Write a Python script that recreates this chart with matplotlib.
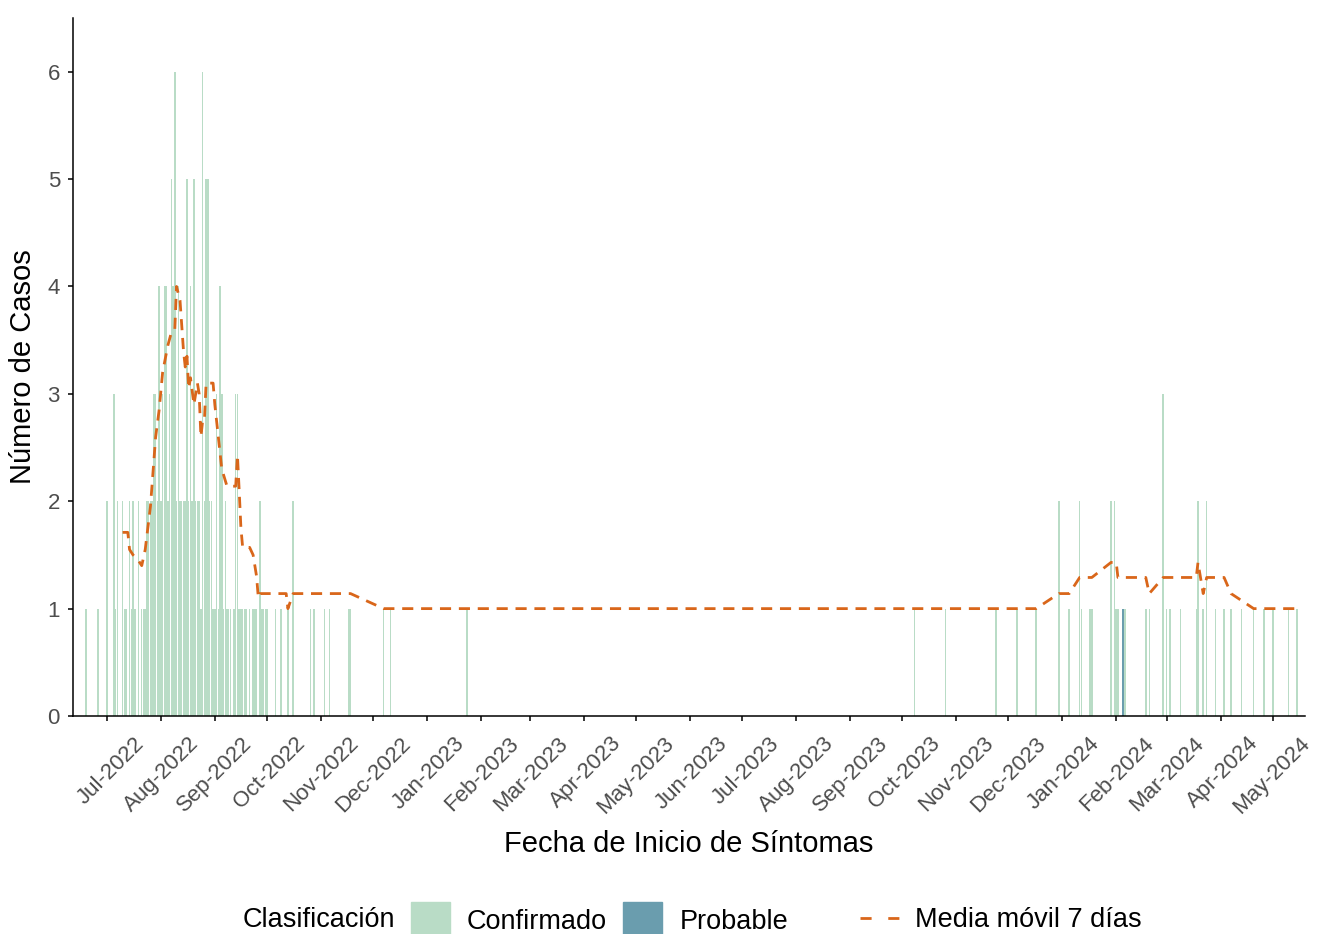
import pandas as pd
import matplotlib
matplotlib.use("Agg")
import matplotlib.pyplot as plt
import matplotlib.dates as mdates
import matplotlib.transforms as mtransforms
from matplotlib.patches import Patch
from matplotlib.lines import Line2D

plt.rcParams['font.family'] = ['Liberation Sans', 'DejaVu Sans']

# Confirmed cases, one value per day during the main wave (from 1 Jul 2022)
wave_start = "2022-07-01"
wave_counts = [2, 0, 0, 0, 3, 1, 2, 0, 0, 2,
               1, 1, 0, 2, 1, 2, 1, 0, 2, 0,
               1, 1, 1, 2, 2, 2, 2, 3, 3, 2,
               4, 2, 3, 4, 4, 2, 3, 5, 4, 6,
               2, 4, 2, 2, 2, 2, 5, 2, 4, 2,
               5, 2, 2, 2, 1, 6, 2, 5, 5, 2,
               2, 1, 1, 3, 1, 4, 3, 1, 2, 1,
               1, 1, 0, 1, 3, 3, 1, 1, 1, 1,
               1, 0, 1, 0, 1, 1, 1, 0, 2, 1,
               1, 1]

# Confirmed cases on isolated dates
confirmed_dates = ["2022-06-19", "2022-06-26", "2022-10-01", "2022-10-06", "2022-10-09",
                   "2022-10-13", "2022-10-16", "2022-10-26", "2022-10-28", "2022-11-03",
                   "2022-11-06", "2022-11-17", "2022-11-18", "2022-12-07", "2022-12-11",
                   "2023-01-24", "2023-10-08", "2023-10-26", "2023-11-24", "2023-12-06",
                   "2023-12-17", "2023-12-30", "2024-01-05", "2024-01-11", "2024-01-12",
                   "2024-01-17", "2024-01-18", "2024-01-29", "2024-01-31", "2024-02-01",
                   "2024-02-02", "2024-02-06", "2024-02-18", "2024-02-20", "2024-02-28",
                   "2024-03-01", "2024-03-03", "2024-03-09", "2024-03-18", "2024-03-19",
                   "2024-03-22", "2024-03-24", "2024-03-29", "2024-04-03", "2024-04-07",
                   "2024-04-13", "2024-04-20", "2024-04-26", "2024-05-01", "2024-05-10",
                   "2024-05-15"]
confirmed_counts = [1, 1, 1, 1, 1,
                    1, 2, 1, 1, 1,
                    1, 1, 1, 1, 1,
                    1, 1, 1, 1, 1,
                    1, 2, 1, 2, 1,
                    1, 1, 2, 2, 1,
                    1, 1, 1, 1, 3,
                    1, 1, 1, 1, 2,
                    1, 2, 1, 1, 1,
                    1, 1, 1, 1, 1,
                    1]

# Probable cases
probable_dates = ["2024-02-05"]
probable_counts = [1]

# 7-day moving average as drawn
ma_dates = ["2022-07-10", "2022-07-13", "2022-07-14", "2022-07-16", "2022-07-19",
            "2022-07-21", "2022-07-23", "2022-07-26", "2022-07-29", "2022-07-31",
            "2022-08-02", "2022-08-05", "2022-08-07", "2022-08-09", "2022-08-10",
            "2022-08-12", "2022-08-14", "2022-08-15", "2022-08-16", "2022-08-17",
            "2022-08-18", "2022-08-20", "2022-08-22", "2022-08-23", "2022-08-24",
            "2022-08-25", "2022-08-26", "2022-08-27", "2022-08-31", "2022-09-01",
            "2022-09-02", "2022-09-04", "2022-09-05", "2022-09-08", "2022-09-13",
            "2022-09-14", "2022-09-15", "2022-09-16", "2022-09-17", "2022-09-21",
            "2022-09-23", "2022-09-25", "2022-09-26", "2022-09-27", "2022-10-12",
            "2022-10-13", "2022-10-16", "2022-11-18", "2022-12-07", "2023-12-17",
            "2023-12-30", "2024-01-05", "2024-01-11", "2024-01-18", "2024-01-29",
            "2024-02-01", "2024-02-02", "2024-02-18", "2024-02-20", "2024-02-28",
            "2024-03-18", "2024-03-19", "2024-03-22", "2024-03-24", "2024-04-03",
            "2024-04-07", "2024-04-20", "2024-05-15"]
ma_values = [1.71, 1.71, 1.55, 1.50, 1.45,
             1.40, 1.55, 1.95, 2.60, 2.85,
             3.20, 3.45, 3.57, 3.60, 4.00,
             3.87, 3.40, 3.25, 3.35, 3.05,
             3.15, 2.90, 3.10, 3.00, 2.60,
             2.75, 2.75, 3.10, 3.10, 2.90,
             2.75, 2.45, 2.30, 2.14, 2.14,
             2.43, 2.10, 1.75, 1.57, 1.57,
             1.50, 1.30, 1.10, 1.14, 1.14,
             1.00, 1.14, 1.14, 1.00, 1.00,
             1.14, 1.14, 1.29, 1.29, 1.43,
             1.43, 1.29, 1.29, 1.14, 1.29,
             1.29, 1.43, 1.14, 1.29, 1.29,
             1.14, 1.00, 1.00]

col_conf = "#B9DCC6"
col_prob = "#6A9DAE"
col_ma = "#D9661A"
tick_col = "#4D4D4D"
dash = (0, (4, 2.8))

# Build daily series
wave = pd.Series(wave_counts, index=pd.date_range(wave_start, periods=len(wave_counts)))
single = pd.Series(confirmed_counts, index=pd.to_datetime(confirmed_dates))
conf = pd.concat([wave, single]).groupby(level=0).sum()
conf = conf[conf > 0]
prob = pd.Series(probable_counts, index=pd.to_datetime(probable_dates))

fig = plt.figure(figsize=(13.17, 9.34), dpi=100)
ax = fig.add_axes([73 / 1317, 1 - 716 / 934, (1305 - 73) / 1317, (716 - 18) / 934])

ax.bar(conf.index, conf.values, width=0.85, color=col_conf, linewidth=0)
ax.bar(prob.index, prob.values, width=0.85, bottom=conf.reindex(prob.index, fill_value=0).values,
       color=col_prob, linewidth=0)
ax.plot(pd.to_datetime(ma_dates), ma_values, color=col_ma, lw=2.0, ls=dash)

ax.set_xlim(pd.Timestamp("2022-06-11 12:00"), pd.Timestamp("2024-05-19 12:00"))
ax.set_ylim(0, 6.5)
ax.set_yticks(range(7))

ax.xaxis.set_major_locator(mdates.MonthLocator())
ax.xaxis.set_major_formatter(mdates.DateFormatter('%b-%Y'))

for side in ['top', 'right']:
    ax.spines[side].set_visible(False)
for side in ['left', 'bottom']:
    ax.spines[side].set_linewidth(1.1)
    ax.spines[side].set_color('black')

ax.tick_params(axis='both', length=3.6, width=1.1, color='black', labelcolor=tick_col, labelsize=16)
ax.tick_params(axis='x', pad=8.6)
ax.tick_params(axis='y', pad=5.8)

shift = mtransforms.ScaledTranslation(0.27, 0, fig.dpi_scale_trans)
for lab in ax.get_xticklabels():
    lab.set_rotation(45)
    lab.set_ha('right')
    lab.set_va('top')
    lab.set_rotation_mode('anchor')
    lab.set_transform(lab.get_transform() + shift)

ax.set_xlabel("Fecha de Inicio de Síntomas", fontsize=21, color='black')
ax.set_ylabel("Número de Casos", fontsize=21, color='black')
ax.xaxis.set_label_coords(0.5, -0.163)
ax.yaxis.set_label_coords(-0.029, 0.5)

# Legend row at the bottom
ly = (934 - 920) / 934
fig.text(243 / 1317, ly, "Clasificación", fontsize=19.5, va='center', ha='left')
leg1 = fig.legend(handles=[Patch(color=col_conf, label="Confirmado"),
                           Patch(color=col_prob, label="Probable")],
                  loc='center left', bbox_to_anchor=(411 / 1317, ly), ncol=2, frameon=False,
                  fontsize=19.5, handlelength=1.44, handleheight=1.67, handletextpad=0.63,
                  columnspacing=0.6, borderpad=0, borderaxespad=0)
leg2 = fig.legend(handles=[Line2D([], [], color=col_ma, lw=2.0, ls=(0, (4, 6)),
                                  label="Media móvil 7 días")],
                  loc='center left', bbox_to_anchor=(860 / 1317, ly), frameon=False,
                  fontsize=19.5, handlelength=1.48, handletextpad=0.55,
                  borderpad=0, borderaxespad=0)

fig.savefig("out.png", dpi=100)
